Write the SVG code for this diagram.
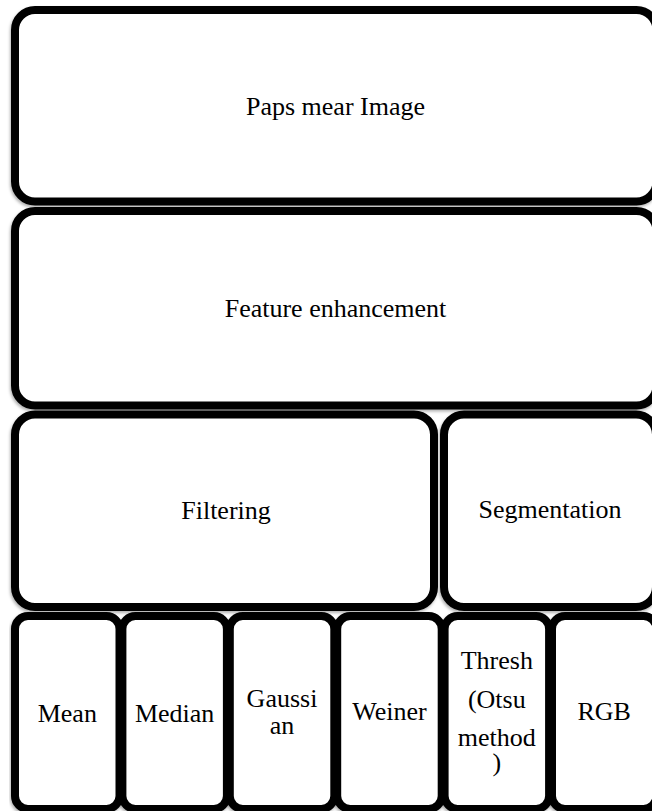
<svg xmlns="http://www.w3.org/2000/svg" width="652" height="811" viewBox="0 0 652 811">
  <defs>
    <filter id="sh" x="-5%" y="-5%" width="110%" height="112%">
      <feDropShadow dx="-1" dy="2" stdDeviation="1.8" flood-color="#000" flood-opacity="0.3"/>
    </filter>
    <style>
      .box { fill: #ffffff; stroke: #000000; stroke-width: 8; filter: url(#sh); }
      .lbl { font-family: "Liberation Serif", "Times New Roman", serif; font-size: 26px; fill: #000000; text-anchor: middle; }
    </style>
  </defs>
  <rect width="652" height="811" fill="#ffffff"/>

  <g id="paps-smear-image">
    <rect class="box" x="15" y="10" width="641.5" height="191.5" rx="20" ry="20"/>
    <text class="lbl" x="335.5" y="115">Paps mear Image</text>
  </g>

  <g id="feature-enhancement">
    <rect class="box" x="15" y="211" width="641.5" height="194.5" rx="20" ry="20"/>
    <text class="lbl" x="335.5" y="317">Feature enhancement</text>
  </g>

  <g id="filtering">
    <rect class="box" x="15" y="414.5" width="419" height="192.5" rx="20" ry="20"/>
    <text class="lbl" x="226" y="519">Filtering</text>
  </g>

  <g id="segmentation">
    <rect class="box" x="444" y="414.5" width="212" height="192.5" rx="20" ry="20"/>
    <text class="lbl" x="550" y="518">Segmentation</text>
  </g>

  <g id="mean">
    <rect class="box" x="15" y="616" width="104.5" height="193" rx="13" ry="13"/>
    <text class="lbl" x="67.3" y="721.5">Mean</text>
  </g>

  <g id="median">
    <rect class="box" x="122.4" y="616" width="104.5" height="193" rx="13" ry="13"/>
    <text class="lbl" x="174.6" y="721.5">Median</text>
  </g>

  <g id="gaussian">
    <rect class="box" x="229.8" y="616" width="104.5" height="193" rx="13" ry="13"/>
    <text class="lbl" x="282" y="706.5">Gaussi</text>
    <text class="lbl" x="282" y="734">an</text>
  </g>

  <g id="weiner">
    <rect class="box" x="337.2" y="616" width="104.5" height="193" rx="13" ry="13"/>
    <text class="lbl" x="389.5" y="720">Weiner</text>
  </g>

  <g id="thresh-otsu">
    <rect class="box" x="444.6" y="616" width="104.5" height="193" rx="13" ry="13"/>
    <text class="lbl" x="496.8" y="669">Thresh</text>
    <text class="lbl" x="496.8" y="707.5">(Otsu</text>
    <text class="lbl" x="496.8" y="746">method</text>
    <text class="lbl" x="496.8" y="771">)</text>
  </g>

  <g id="rgb">
    <rect class="box" x="552" y="616" width="104.5" height="193" rx="13" ry="13"/>
    <text class="lbl" x="604.2" y="720">RGB</text>
  </g>
</svg>
